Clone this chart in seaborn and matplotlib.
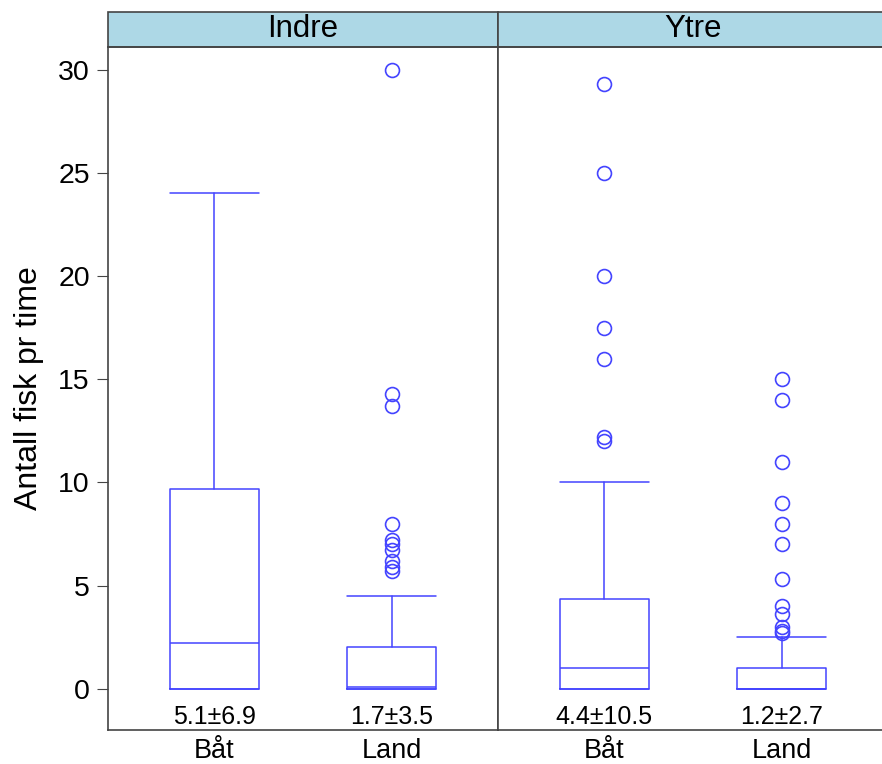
import numpy as np
import matplotlib.pyplot as plt
import seaborn as sns
from matplotlib.patches import Rectangle

sns.set_style('white')
plt.rcParams['font.family'] = ['Liberation Sans', 'DejaVu Sans']
plt.rcParams['text.color'] = 'black'
plt.rcParams['axes.labelcolor'] = 'black'
plt.rcParams['xtick.color'] = 'black'
plt.rcParams['ytick.color'] = 'black'

# data
panels = ['Indre', 'Ytre']
groups = ['Båt', 'Land']
q1 = [[0.0, 0.0], [0.0, 0.0]]
med = [[2.2, 0.1], [1.0, 0.0]]
q3 = [[9.7, 2.0], [4.35, 1.0]]
whis_lo = [[0.0, 0.0], [0.0, 0.0]]
whis_hi = [[24.0, 4.5], [10.0, 2.5]]
fliers = [
    [[], [30.0, 14.3, 13.7, 8.0, 7.2, 7.0, 6.7, 6.2, 5.9, 5.7]],
    [[29.3, 25.0, 20.0, 17.5, 16.0, 12.2, 12.0],
     [15.0, 14.0, 11.0, 9.0, 8.0, 7.0, 5.3, 4.0, 3.6, 3.0, 2.8, 2.7]],
]
mean_sd = [['5.1±6.9', '1.7±3.5'], ['4.4±10.5', '1.2±2.7']]

blue = '#4444ff'
edge = '#444444'

fig = plt.figure(figsize=(8.82, 7.64), dpi=100)
axes = fig.subplots(1, 2, sharey=True)
# right panel runs past the image edge, as in the original
fig.subplots_adjust(left=108 / 882, right=888 / 882, bottom=0.0445, top=0.9385, wspace=0)

for p, ax in enumerate(axes):
    stats = []
    for g in range(len(groups)):
        stats.append(dict(q1=q1[p][g], med=med[p][g], q3=q3[p][g],
                          whislo=whis_lo[p][g], whishi=whis_hi[p][g],
                          fliers=fliers[p][g], label=groups[g]))
    ax.bxp(stats, positions=[1, 2], widths=0.5, capwidths=0.5,
           boxprops=dict(color=blue, lw=1.1),
           whiskerprops=dict(color=blue, lw=1.1, ls='-'),
           capprops=dict(color=blue, lw=1.1),
           medianprops=dict(color=blue, lw=1.1),
           flierprops=dict(marker='o', mfc='none', mec=blue, ms=10, mew=1.2))
    for g in range(len(groups)):
        ax.text(g + 1, -1.35, mean_sd[p][g], ha='center', va='center', fontsize=18)

    ax.set_xlim(0.4, 2.6)
    ax.set_ylim(-2.0, 31.1)
    ax.set_xticks([1, 2])
    ax.set_xticklabels(groups, fontsize=19.5)
    ax.tick_params(axis='x', length=0, pad=6)
    for s in ax.spines.values():
        s.set_color(edge)
        s.set_linewidth(1.2)

    # strip header
    h = 35 / 683
    ax.add_patch(Rectangle((0, 1), 1, h, transform=ax.transAxes, clip_on=False,
                           fc='#add8e6', ec=edge, lw=1.2))
    ax.text(0.5, 1 + h / 2, panels[p], transform=ax.transAxes,
            ha='center', va='center', fontsize=22.5)

axes[0].set_yticks([0, 5, 10, 15, 20, 25, 30])
axes[0].tick_params(axis='y', direction='out', length=8, color=edge, labelsize=20.5, left=True, pad=5)
axes[1].tick_params(axis='y', length=0, left=False)
axes[0].set_ylabel('Antall fisk pr time', fontsize=23, labelpad=10)

fig.savefig('out.png', dpi=100)
